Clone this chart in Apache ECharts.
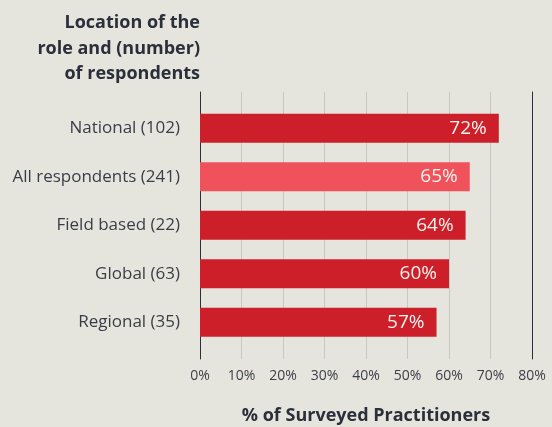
<!DOCTYPE html>
<html>
<head>
<meta charset="utf-8">
<script src="https://cdn.jsdelivr.net/npm/echarts@6/dist/echarts.min.js"></script>
<style>
  html, body { margin: 0; padding: 0; background: #e6e5dd; }
  #chart { width: 552px; height: 427px; }
</style>
</head>
<body>
<div id="chart"></div>
<script>
// Role locations, respondent counts and share of surveyed practitioners (%)
const roles = ['National', 'All respondents', 'Field based', 'Global', 'Regional'];
const respondents = [102, 241, 22, 63, 35];
const shares = [72, 65, 64, 60, 57];
const isTotal = [false, true, false, false, false];
const xTicks = [0, 10, 20, 30, 40, 50, 60, 70, 80];
const headingLines = ['Location of the', 'role and (number)', 'of respondents'];

const BAR = '#cc1f29';
const BAR_TOTAL = '#f0525c';
const INK = '#2b2f3b';
const FONT = '"Open Sans", "Noto Sans", sans-serif';

const categoryLabels = roles.map((r, i) => r + ' (' + respondents[i] + ')');

const chart = echarts.init(document.getElementById('chart'), null, { renderer: 'canvas' });

// Right-aligned heading above the category labels, one line per element
const heading = headingLines.map((line, i) => ({
  type: 'text',
  right: 352,
  top: 10 + i * 25.5,
  style: {
    text: line,
    font: 'bold 18px ' + FONT,
    lineHeight: 26,
    fill: INK
  }
}));

chart.setOption({
  backgroundColor: '#e6e5dd',
  animation: false,
  textStyle: { fontFamily: FONT },
  graphic: heading,
  grid: [
    // bars
    { left: 200, right: 20, top: 104, height: 242.5, outerBoundsMode: 'none', containLabel: false },
    // reference lines and percentage scale
    { left: 200, right: 20, top: 92, height: 267, outerBoundsMode: 'none', containLabel: false }
  ],
  xAxis: [
    {
      gridIndex: 0, type: 'value', min: 0, max: 80, interval: 10,
      show: false
    },
    {
      gridIndex: 1, type: 'value', min: xTicks[0], max: xTicks[xTicks.length - 1], interval: 10,
      axisLine: { show: false },
      axisTick: { show: false },
      splitLine: { show: true, lineStyle: { color: '#c8c8c2', width: 1 } },
      axisLabel: {
        formatter: '{value}%', fontSize: 14, color: '#3d404b', margin: 10
      },
      name: '% of Surveyed Practitioners',
      nameLocation: 'middle',
      nameGap: 48,
      nameTextStyle: { fontSize: 18, fontWeight: 'bold', color: INK }
    }
  ],
  yAxis: [
    {
      gridIndex: 0, type: 'category', inverse: true,
      data: categoryLabels,
      axisLine: { show: false },
      axisTick: { show: false },
      splitLine: { show: false },
      axisLabel: { fontSize: 17, color: '#3a3d49', margin: 20 }
    },
    {
      gridIndex: 1, type: 'value', position: 'left',
      axisLine: { show: true, lineStyle: { color: INK, width: 1 } },
      axisTick: { show: false }, axisLabel: { show: false }, splitLine: { show: false }
    },
    {
      gridIndex: 1, type: 'value', position: 'right',
      axisLine: { show: true, lineStyle: { color: INK, width: 1 } },
      axisTick: { show: false }, axisLabel: { show: false }, splitLine: { show: false }
    }
  ],
  series: [{
    type: 'bar',
    xAxisIndex: 0,
    yAxisIndex: 0,
    barWidth: 29,
    data: shares.map((v, i) => ({
      value: v,
      itemStyle: { color: isTotal[i] ? BAR_TOTAL : BAR }
    })),
    label: {
      show: true,
      position: 'insideRight',
      distance: 12,
      formatter: '{c}%',
      fontSize: 19,
      color: '#f8f3ee'
    }
  }]
});
</script>
</body>
</html>
